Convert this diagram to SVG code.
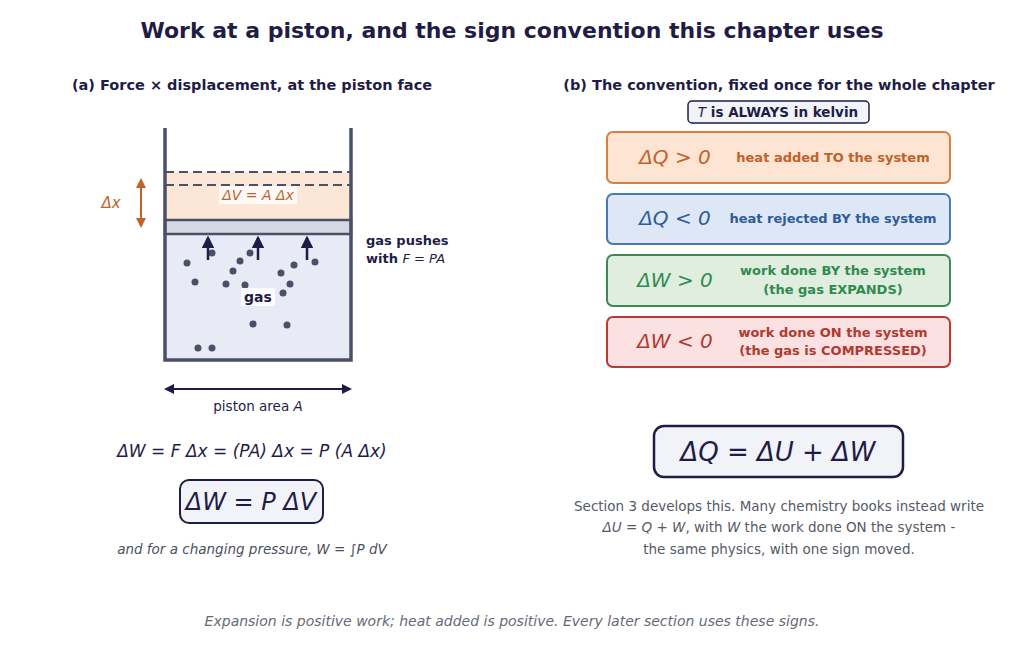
<svg xmlns="http://www.w3.org/2000/svg" width="1024" height="648" viewBox="0 0 1024 648">
<style>
text{font-family:"DejaVu Sans","Liberation Sans",sans-serif}
.b{font-weight:bold}
.i{font-style:italic}
.wall{stroke:#4a5068;stroke-width:3.5;fill:none}
.mol{fill:#4a5068}
.box{stroke-width:2;rx:6}
</style>
<defs>
<marker id="an" viewBox="0 0 10 10" refX="8" refY="5" markerWidth="5" markerHeight="5" orient="auto-start-reverse"><path d="M0,0L10,5L0,10z" fill="#1f1d45"/></marker>
<marker id="ao" viewBox="0 0 10 10" refX="8" refY="5" markerWidth="5" markerHeight="5" orient="auto-start-reverse"><path d="M0,0L10,5L0,10z" fill="#c0622a"/></marker>
</defs>
<rect width="1024" height="648" fill="#fff"/>
<text x="512" y="38" text-anchor="middle" class="b" font-size="22" fill="#1f1d45">Work at a piston, and the sign convention this chapter uses</text>
<text x="252" y="90" text-anchor="middle" class="b" font-size="14.5" fill="#1f1d45">(a) Force × displacement, at the piston face</text>
<text x="779" y="90" text-anchor="middle" class="b" font-size="14.5" fill="#1f1d45">(b) The convention, fixed once for the whole chapter</text>
<g id="piston">
<rect x="165" y="172" width="186" height="48" fill="#fce6d6"/>
<rect x="165" y="234" width="186" height="126" fill="#e8ebf6"/>
<rect x="165" y="220" width="186" height="14" fill="#d5d9e3" stroke="#4a5068" stroke-width="2.5"/>
<line x1="165" y1="172" x2="351" y2="172" stroke="#4a5068" stroke-width="2" stroke-dasharray="9,5"/>
<line x1="165" y1="185" x2="351" y2="185" stroke="#4a5068" stroke-width="2" stroke-dasharray="9,5"/>
<path class="wall" d="M165,128V360H351V128"/>
<rect x="219" y="186" width="78" height="18" fill="#fff" opacity="0.8"/>
<text x="258" y="200" text-anchor="middle" class="i" font-size="14" fill="#c0622a">ΔV = A Δx</text>
<g class="mol">
<circle cx="187" cy="263" r="3.5"/><circle cx="195" cy="282" r="3.5"/><circle cx="212" cy="253" r="3.5"/><circle cx="240" cy="261" r="3.5"/><circle cx="250" cy="253" r="3.5"/><circle cx="233" cy="271" r="3.5"/><circle cx="226" cy="284" r="3.5"/><circle cx="245" cy="285" r="3.5"/><circle cx="281" cy="273" r="3.5"/><circle cx="294" cy="265" r="3.5"/><circle cx="315" cy="262" r="3.5"/><circle cx="290" cy="284" r="3.5"/><circle cx="283" cy="293" r="3.5"/><circle cx="253" cy="324" r="3.5"/><circle cx="287" cy="325" r="3.5"/><circle cx="198" cy="348" r="3.5"/><circle cx="212" cy="348" r="3.5"/>
</g>
<g stroke="#1f1d45" stroke-width="2.5" marker-end="url(#an)">
<line x1="208" y1="260" x2="208" y2="238"/><line x1="258" y1="260" x2="258" y2="238"/><line x1="307" y1="260" x2="307" y2="238"/>
</g>
<rect x="241" y="288" width="34" height="18" fill="#fff" opacity="0.85"/>
<text x="258" y="302" text-anchor="middle" class="b" font-size="14" fill="#1f1d45">gas</text>
<line x1="141" y1="180" x2="141" y2="226" stroke="#c0622a" stroke-width="2" marker-start="url(#ao)" marker-end="url(#ao)"/>
<text x="111" y="208" text-anchor="middle" class="i" font-size="15" fill="#c0622a">Δx</text>
<line x1="166" y1="389" x2="350" y2="389" stroke="#1f1d45" stroke-width="2" marker-start="url(#an)" marker-end="url(#an)"/>
<text x="258" y="411" text-anchor="middle" font-size="13.5" fill="#1f1d45">piston area <tspan class="i">A</tspan></text>
<text x="366" y="245" class="b" font-size="13" fill="#1f1d45">gas pushes</text>
<text x="366" y="263" class="b" font-size="13" fill="#1f1d45">with <tspan class="i" font-weight="normal">F = PA</tspan></text>
</g>
<g id="eqs">
<text x="252" y="457" text-anchor="middle" class="i" font-size="17" fill="#1f1d45">ΔW = F Δx = (PA) Δx = P (A Δx)</text>
<rect x="180" y="480" width="143" height="43" rx="9" fill="#f2f3f8" stroke="#1f1d45" stroke-width="2"/>
<text x="251" y="510" text-anchor="middle" class="i" font-size="24" fill="#1f1d45">ΔW = P ΔV</text>
<text x="252" y="554" text-anchor="middle" class="i" font-size="13.5" fill="#4a4f60">and for a changing pressure,  W = ∫P dV</text>
</g>
<g id="kelvin">
<rect x="688" y="101" width="181" height="22" rx="4" fill="#f2f3f8" stroke="#1f1d45" stroke-width="1.5"/>
<text x="778" y="117" text-anchor="middle" class="b" font-size="13.5" fill="#1f1d45"><tspan class="i" font-weight="normal">T</tspan> is ALWAYS in kelvin</text>
</g>
<g id="dQpos"><rect x="607" y="132" width="343" height="51" rx="6" fill="#fde4d3" stroke="#d9803e" stroke-width="2"/>
<text x="675" y="164" text-anchor="middle" class="i" font-size="20" fill="#c0622a">ΔQ &gt; 0</text>
<text x="833" y="162" text-anchor="middle" class="b" font-size="13" fill="#c0622a">heat added TO the system</text></g>
<g id="dQneg"><rect x="607" y="194" width="343" height="50" rx="6" fill="#dde7f5" stroke="#4a78b5" stroke-width="2"/>
<text x="675" y="225" text-anchor="middle" class="i" font-size="20" fill="#2f5c9a">ΔQ &lt; 0</text>
<text x="833" y="223" text-anchor="middle" class="b" font-size="13" fill="#2f5c9a">heat rejected BY the system</text></g>
<g id="dWpos"><rect x="607" y="255" width="343" height="51" rx="6" fill="#dfeedf" stroke="#3e8a55" stroke-width="2"/>
<text x="675" y="287" text-anchor="middle" class="i" font-size="20" fill="#2f8a4f">ΔW &gt; 0</text>
<text x="833" y="275" text-anchor="middle" class="b" font-size="13" fill="#2f8a4f">work done BY the system</text>
<text x="833" y="294" text-anchor="middle" class="b" font-size="13" fill="#2f8a4f">(the gas EXPANDS)</text></g>
<g id="dWneg"><rect x="607" y="317" width="343" height="50" rx="6" fill="#fbe1e1" stroke="#b83a32" stroke-width="2"/>
<text x="675" y="348" text-anchor="middle" class="i" font-size="20" fill="#b03a30">ΔW &lt; 0</text>
<text x="833" y="337" text-anchor="middle" class="b" font-size="13" fill="#b03a30">work done ON the system</text>
<text x="833" y="355" text-anchor="middle" class="b" font-size="13" fill="#b03a30">(the gas is COMPRESSED)</text></g>
<g id="first">
<rect x="654" y="426" width="249" height="51" rx="10" fill="#f2f3f8" stroke="#1f1d45" stroke-width="2.5"/>
<text x="778" y="461" text-anchor="middle" class="i" font-size="26" fill="#1f1d45">ΔQ  =  ΔU  +  ΔW</text>
</g>
<g font-size="13.5" fill="#555a68" text-anchor="middle">
<text x="779" y="511">Section 3 develops this. Many chemistry books instead write</text>
<text x="779" y="532"><tspan class="i">ΔU = Q + W</tspan>, with <tspan class="i">W</tspan> the work done ON the system -</text>
<text x="779" y="554">the same physics, with one sign moved.</text>
</g>
<text x="512" y="626" text-anchor="middle" class="i" font-size="14" fill="#666a78">Expansion is positive work; heat added is positive. Every later section uses these signs.</text>
<g id="connectors"/>
</svg>
